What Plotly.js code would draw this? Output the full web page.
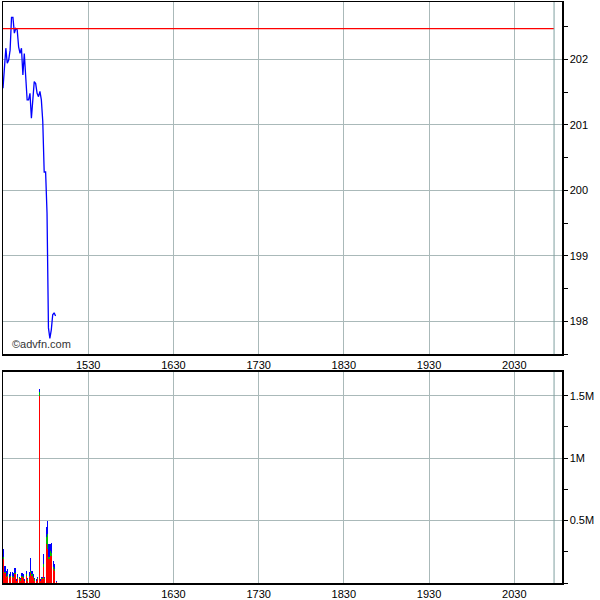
<!DOCTYPE html>
<html>
<head>
<meta charset="utf-8">
<script src="https://cdn.plot.ly/plotly-3.0.1.min.js"></script>
<style>html,body{margin:0;padding:0;background:#fff;}#chart{width:600px;height:600px;}</style>
</head>
<body>
<div id="chart"></div>
<script>
// Session start and minute-by-minute prices
const startTime = "2024-01-02 14:30:00";
const price = [201.56,201.96,202.17,201.94,201.99,202.14,202.64,202.64,202.40,202.47,
  202.45,202.19,202.09,202.17,201.76,202.09,201.73,201.38,201.38,201.48,
  201.10,201.43,201.66,201.63,201.48,201.43,201.51,201.38,201.05,200.28,
  200.28,199.65,197.90,197.74,197.87,198.10,198.13,198.08];
const prevClose = 202.47;
// volume split (millions)
const volRed = [0.19,0.08,0.05,0.06,0.04,0.05,0.05,0.04,0.07,0.02,0.04,0.03,0.02,0.05,0.04,0.02,0.06,0.02,0.05,0.08,0.06,0.04,0.02,0.02,0.03,1.50,0.02,0.03,0.13,0.03,0.31,0.27,0.19,0.22,0.22,0.11,0.10,0.01];
const volGreen = [0.02,0.01,0.01,0.01,0.01,0.01,0.01,0.01,0.01,0.00,0.01,0.01,0.01,0.01,0.01,0.00,0.01,0.01,0.01,0.02,0.01,0.01,0.01,0.00,0.01,0.03,0.00,0.01,0.02,0.01,0.06,0.12,0.02,0.04,0.02,0.02,0.01,0.00];
const volBlue = [0.06,0.05,0.04,0.045,0.02,0.03,0.03,0.03,0.04,0.01,0.02,0.01,0.01,0.02,0.02,0.01,0.03,0.01,0.03,0.10,0.03,0.02,0.01,0.01,0.01,0.023,0.015,0.005,0.085,0.01,0.08,0.11,0.10,0.05,0.08,0.05,0.04,0.01];
const tickTimes = ["2024-01-02 15:30","2024-01-02 16:30","2024-01-02 17:30","2024-01-02 18:30","2024-01-02 19:30","2024-01-02 20:30"];
const tickLabels = ["1530","1630","1730","1830","1930","2030"];
const xRange = ["2024-01-02 14:30:00","2024-01-02 21:03:36"];
const sessionEnd = "2024-01-02 20:58:00";
const volTicks = [0.5,1,1.5];
const volTickLabels = ["0.5M","1M","1.5M"];
const priceTicks = [198,199,200,201,202];

const t0 = new Date(startTime.replace(" ","T")+"Z").getTime();
function fmt(ms){const d=new Date(ms);return d.toISOString().replace("T"," ").slice(0,19);}
const times = price.map((_,i)=>fmt(t0+i*60000));
const barTimes = volRed.map((_,i)=>fmt(t0+i*60000));

const gridC = "#aab9b9";
const fnt = {family:"Liberation Sans, Arial, sans-serif", size:11, color:"#000"};

const traces = [
 {x:times,y:price,type:"scatter",mode:"lines",line:{color:"#0000ff",width:1.3},xaxis:"x",yaxis:"y",hoverinfo:"skip"},
 {x:[xRange[0],sessionEnd],y:[prevClose,prevClose],type:"scatter",mode:"lines",line:{color:"#ff0000",width:1.3},xaxis:"x",yaxis:"y"},
 {x:barTimes,y:volRed,type:"bar",marker:{color:"#ff0000",line:{width:0}},width:50000,offset:0,xaxis:"x2",yaxis:"y2"},
 {x:barTimes,y:volGreen,type:"bar",marker:{color:"#00c000",line:{width:0}},width:50000,offset:0,xaxis:"x2",yaxis:"y2"},
 {x:barTimes,y:volBlue,type:"bar",marker:{color:"#0000ff",line:{width:0}},width:50000,offset:0,xaxis:"x2",yaxis:"y2"}
];

const xCommon = {type:"date",range:xRange,tickvals:tickTimes,ticktext:tickLabels,showgrid:true,gridcolor:gridC,gridwidth:1,
  showline:true,linecolor:"#000",linewidth:1.5,mirror:true,ticks:"",tickfont:fnt,zeroline:false,fixedrange:true};

const layout = {
 width:600,height:600,margin:{l:3,r:38,t:2,b:17},paper_bgcolor:"#fff",plot_bgcolor:"#fff",
 showlegend:false,barmode:"stack",bargap:0,
 xaxis:Object.assign({},xCommon,{anchor:"y"}),
 xaxis2:Object.assign({},xCommon,{anchor:"y2",matches:"x"}),
 yaxis:{domain:[0.394,1],range:[197.50,202.875],side:"right",tickvals:priceTicks,ticks:"outside",ticklen:4,tickcolor:"#000",
   minor:{dtick:0.5,tick0:197.5,ticks:"outside",ticklen:4,tickcolor:"#000",showgrid:false},
   showgrid:true,gridcolor:gridC,showline:true,linecolor:"#000",linewidth:1.5,mirror:true,tickfont:fnt,zeroline:false,anchor:"x"},
 yaxis2:{domain:[0,0.3632],range:[0,1.69],side:"right",tickvals:volTicks,ticktext:volTickLabels,ticks:"outside",ticklen:4,tickcolor:"#000",
   minor:{dtick:0.25,tick0:0,ticks:"outside",ticklen:4,tickcolor:"#000",showgrid:false},
   showgrid:true,gridcolor:gridC,showline:true,linecolor:"#000",linewidth:1.5,mirror:true,tickfont:fnt,zeroline:false,anchor:"x2"},
 shapes:[
  {type:"line",xref:"x",yref:"y domain",x0:sessionEnd,x1:sessionEnd,y0:0,y1:1,line:{color:"#7f9f9f",width:1}},
  {type:"line",xref:"x2",yref:"y2 domain",x0:sessionEnd,x1:sessionEnd,y0:0,y1:1,line:{color:"#7f9f9f",width:1}}
 ],
 annotations:[
  {text:"©advfn.com",xref:"paper",yref:"paper",x:0.012,y:0.398,xanchor:"left",yanchor:"bottom",showarrow:false,
   font:{family:"Liberation Sans, Arial, sans-serif",size:11,color:"#333"}}
 ]
};
Plotly.newPlot("chart",traces,layout,{staticPlot:true,displayModeBar:false});
</script>
</body>
</html>
